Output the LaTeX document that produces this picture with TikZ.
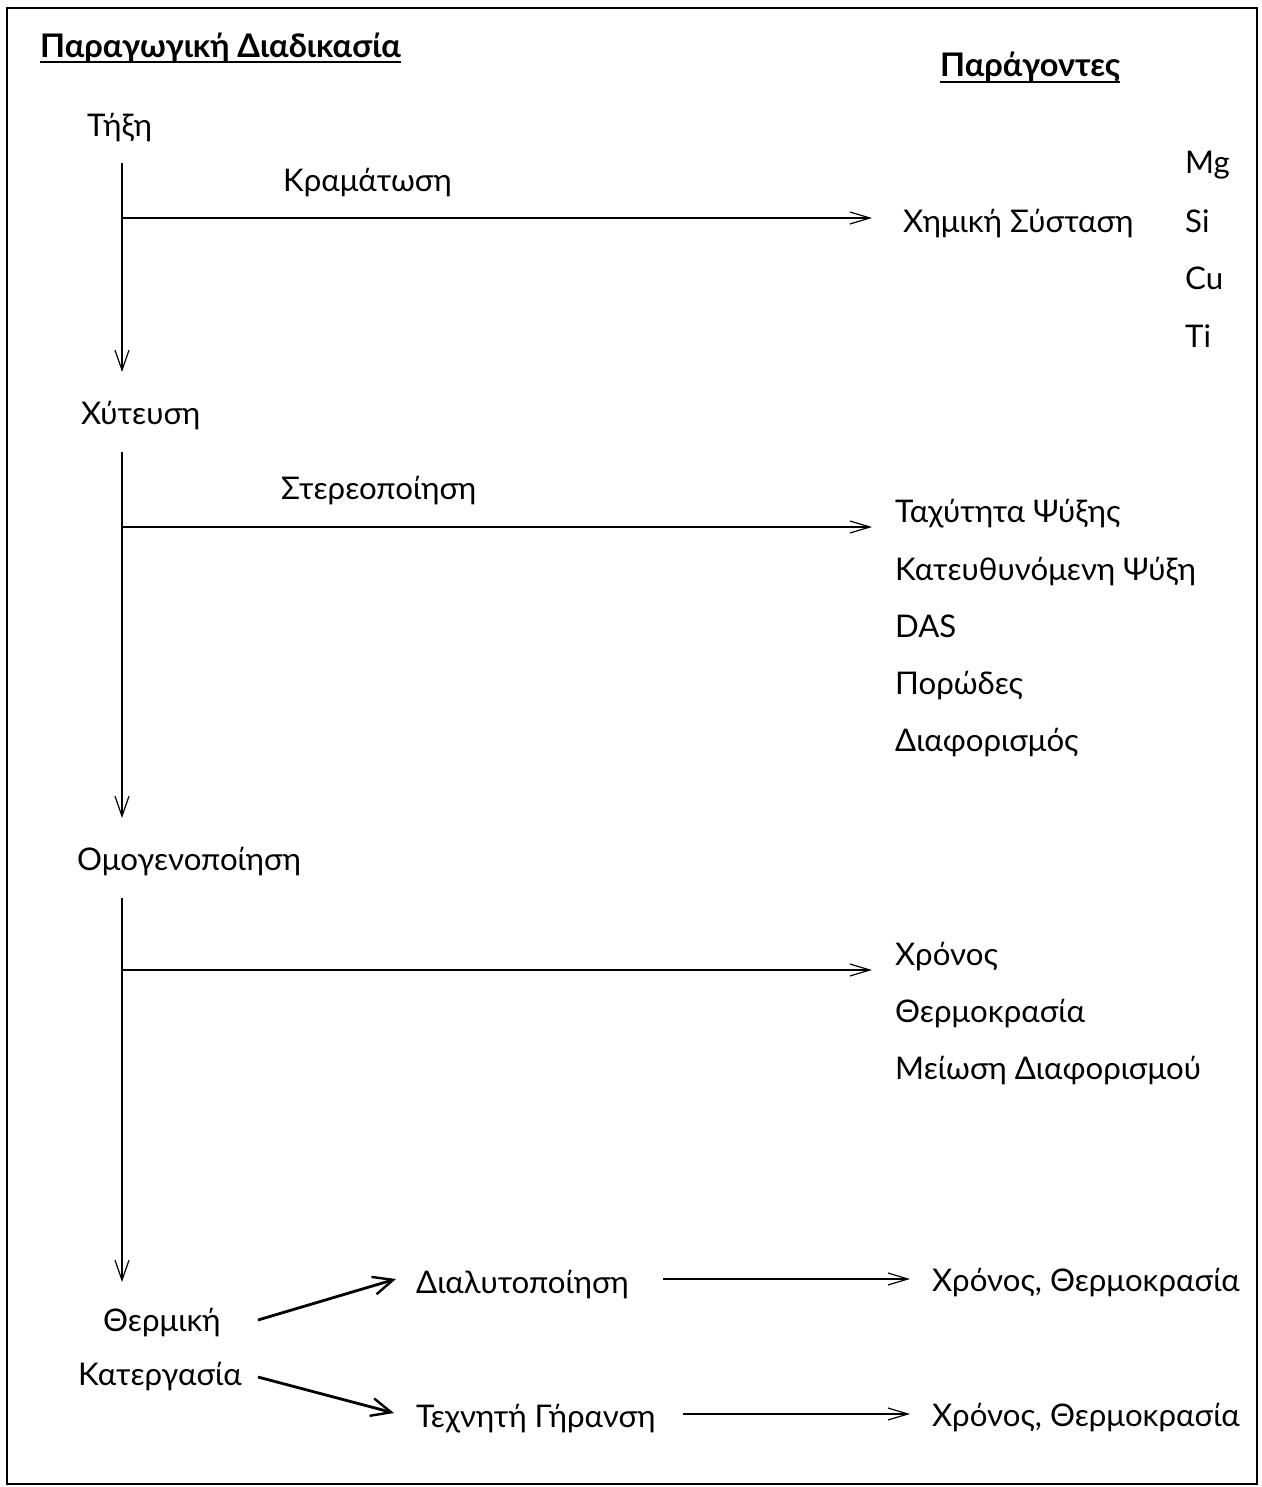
\documentclass[tikz,border=0pt]{standalone}
\usepackage{fontspec}
\setmainfont{Lato}
\usetikzlibrary{arrows.meta}
\begin{document}
\begin{tikzpicture}[x=1pt,y=-1pt,
  lbl/.style={anchor=base west,inner sep=0pt,font=\fontsize{31.2}{38}\selectfont},
  ttl/.style={anchor=base west,inner sep=0pt,font=\fontsize{32.5}{38}\selectfont\bfseries},
  thinarrow/.style={line width=1.2pt,-{Straight Barb[length=20pt,width=12pt,line width=1.2pt]}},
  vertarrow/.style={line width=1.2pt,-{Straight Barb[length=20pt,width=14pt,line width=1.2pt]}},
  thickarrow/.style={line width=2.8pt,-{Straight Barb[length=20pt,width=18pt,line width=2.4pt]}},
  uline/.style={line width=2pt}]
\useasboundingbox (0,0) rectangle (1261,1487);
\draw[line width=2.4pt] (7,8) rectangle (1257,1484);

% titles
\node[ttl] (t1) at (40,58) {Παραγωγική Διαδικασία};
\node[ttl] (t2) at (940,77) {Παράγοντες};
\draw[uline] ([yshift=-4.5pt]t1.base west) -- ([yshift=-4.5pt]t1.base east);
\draw[uline] ([yshift=-5pt]t2.base west) -- ([yshift=-5pt]t2.base east);

% left column
\node[lbl] (tixi) at (87,137) {Τήξη};
\node[lbl] (xyt) at (81,424) {Χύτευση};
\node[lbl] (omog) at (77,870) {Ομογενοποίηση};
\node[lbl] (therm) at (103,1331) {Θερμική};
\node[lbl] (kat) at (78,1385) {Κατεργασία};

% step labels
\node[lbl] (kram) at (283,192) {Κραμάτωση};
\node[lbl] (ster) at (281,499) {Στερεοποίηση};

% right column
\node[lbl] (xim) at (903,233) {Χημική Σύσταση};
\node[lbl] (mg) at (1185,174) {Mg};
\node[lbl] (si) at (1185,233) {Si};
\node[lbl] (cu) at (1185,290) {Cu};
\node[lbl] (ti) at (1185,347) {Ti};

\node[lbl] (tax) at (895,522) {Ταχύτητα Ψύξης};
\node[lbl] (kate) at (895,580) {Κατευθυνόμενη Ψύξη};
\node[lbl] (das) at (895,637) {DAS};
\node[lbl] (por) at (895,694) {Πορώδες};
\node[lbl] (diaf) at (895,751) {Διαφορισμός};

\node[lbl] (xr) at (895,965) {Χρόνος};
\node[lbl] (thr) at (895,1022) {Θερμοκρασία};
\node[lbl] (mei) at (895,1079) {Μείωση Διαφορισμού};

\node[lbl] (dial) at (416,1293) {Διαλυτοποίηση};
\node[lbl] (texn) at (416,1427) {Τεχνητή Γήρανση};
\node[lbl] (xt1) at (932,1291) {Χρόνος, Θερμοκρασία};
\node[lbl] (xt2) at (932,1426) {Χρόνος, Θερμοκρασία};

% vertical flow
\coordinate (a1) at (122,163);
\coordinate (a2) at (122,372);
\coordinate (b1) at (122,452);
\coordinate (b2) at (122,818);
\coordinate (c1) at (122,898);
\coordinate (c2) at (122,1282);
\draw[vertarrow] (a1) -- (a2);
\draw[vertarrow] (b1) -- (b2);
\draw[vertarrow] (c1) -- (c2);

% horizontal branches
\coordinate (h1) at (122,218);
\coordinate (h1e) at (872,218);
\coordinate (h2) at (122,527);
\coordinate (h2e) at (872,527);
\coordinate (h3) at (122,970);
\coordinate (h3e) at (872,970);
\draw[thinarrow] (h1) -- (h1e);
\draw[thinarrow] (h2) -- (h2e);
\draw[thinarrow] (h3) -- (h3e);

% heat treatment branches
\coordinate (s1) at (258,1320);
\coordinate (e1) at (396,1279);
\coordinate (s2) at (258,1377);
\coordinate (e2) at (394,1413);
\draw[thickarrow] (s1) -- (e1);
\draw[thickarrow] (s2) -- (e2);

\coordinate (d1) at (663,1279);
\coordinate (d1e) at (910,1279);
\coordinate (d2) at (683,1414);
\coordinate (d2e) at (910,1414);
\draw[thinarrow] (d1) -- (d1e);
\draw[thinarrow] (d2) -- (d2e);
\end{tikzpicture}
\end{document}
